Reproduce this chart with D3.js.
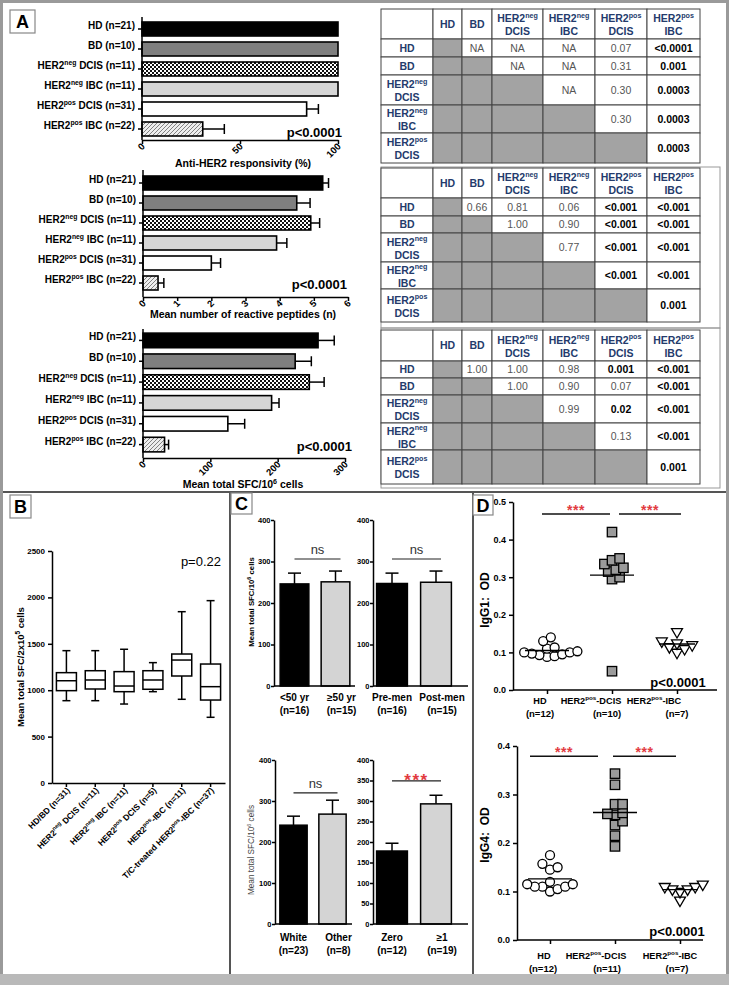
<!DOCTYPE html>
<html>
<head>
<meta charset="utf-8">
<title>Anti-HER2 responses</title>
<script src="https://cdn.jsdelivr.net/npm/d3@7"></script>
<style>
body { margin: 0; background: #fff; }
svg { display: block; font-family: "Liberation Sans", Arial, Helvetica, sans-serif; }
</style>
</head>
<body>
<svg id="fig"></svg>
<script>
// ---------- panel A : bar charts ----------
var aGroups = ["HD (n=21)", "BD (n=10)", "HER2^neg DCIS (n=11)", "HER2^neg IBC (n=11)", "HER2^pos DCIS (n=31)", "HER2^pos IBC (n=22)"];
var respMean = [100, 100, 100, 100, 84, 31];
var respSem  = [0, 0, 0, 0, 6, 11];
var pepMean  = [5.26, 4.50, 4.91, 3.91, 2.00, 0.44];
var pepSem   = [0.17, 0.39, 0.26, 0.30, 0.27, 0.17];
var sfcMean  = [260, 226, 247, 191, 126, 32];
var sfcSem   = [24, 24, 22, 11, 25, 6];

// ---------- panel A : p value tables ----------
var tCols = ["HD", "BD", "HER2^neg|DCIS", "HER2^neg|IBC", "HER2^pos|DCIS", "HER2^pos|IBC"];
var tRows = ["HD", "BD", "HER2^neg|DCIS", "HER2^neg|IBC", "HER2^pos|DCIS"];
var pResp = [["", "NA", "NA", "NA", "0.07", "<0.0001"],
             ["", "", "NA", "NA", "0.31", "0.001"],
             ["", "", "", "NA", "0.30", "0.0003"],
             ["", "", "", "", "0.30", "0.0003"],
             ["", "", "", "", "", "0.0003"]];
var pPep  = [["", "0.66", "0.81", "0.06", "<0.001", "<0.001"],
             ["", "", "1.00", "0.90", "<0.001", "<0.001"],
             ["", "", "", "0.77", "<0.001", "<0.001"],
             ["", "", "", "", "<0.001", "<0.001"],
             ["", "", "", "", "", "0.001"]];
var pSfc  = [["", "1.00", "1.00", "0.98", "0.001", "<0.001"],
             ["", "", "1.00", "0.90", "0.07", "<0.001"],
             ["", "", "", "0.99", "0.02", "<0.001"],
             ["", "", "", "", "0.13", "<0.001"],
             ["", "", "", "", "", "0.001"]];

// ---------- panel B : box plots ----------
var bGroups = ["HD/BD (n=31)", "HER2^neg DCIS (n=11)", "HER2^neg IBC (n=11)", "HER2^pos DCIS (n=5)", "HER2^pos-IBC (n=11)", "T/C-treated HER2^pos-IBC (n=37)"];
var bMin = [887, 887, 851, 984, 902, 708];
var bQ1  = [995, 1013, 984, 1010, 1153, 894];
var bMed = [1102, 1110, 1045, 1110, 1325, 1038];
var bQ3  = [1189, 1210, 1200, 1210, 1390, 1282];
var bMax = [1426, 1426, 1441, 1297, 1846, 1965];
var bTicks = [0, 500, 1000, 1500, 2000, 2500];

// ---------- panel C : subgroup bars ----------
var cAgeLabels  = [["<50 yr", "(n=16)"], ["\u226550 yr", "(n=15)"]];
var cAgeMean = [246, 251], cAgeSem = [26, 26];
var cMenLabels  = [["Pre-men", "(n=16)"], ["Post-men", "(n=15)"]];
var cMenMean = [247, 250], cMenSem = [25, 27];
var cRaceLabels = [["White", "(n=23)"], ["Other", "(n=8)"]];
var cRaceMean = [241, 268], cRaceSem = [22, 34];
var cPepLabels  = [["Zero", "(n=12)"], ["\u22651", "(n=19)"]];
var cPepMean = [178, 293], cPepSem = [19, 21];

// ---------- panel D : IgG1 / IgG4 scatter ----------
var dGroups = ["HD", "HER2^pos-DCIS", "HER2^pos-IBC"];
var dN1 = ["(n=12)", "(n=10)", "(n=7)"];
var igg1HD   = [0.088, 0.09, 0.093, 0.095, 0.097, 0.10, 0.10, 0.103, 0.11, 0.113, 0.13, 0.14];
var igg1DCIS = [0.42, 0.35, 0.345, 0.335, 0.325, 0.32, 0.315, 0.30, 0.295, 0.05];
var igg1IBC  = [0.155, 0.13, 0.125, 0.12, 0.115, 0.11, 0.10];
var dN4 = ["(n=12)", "(n=11)", "(n=7)"];
var igg4HD   = [0.175, 0.15, 0.145, 0.157, 0.115, 0.11, 0.11, 0.11, 0.115, 0.10, 0.105, 0.12];
var igg4DCIS = [0.343, 0.32, 0.28, 0.28, 0.262, 0.258, 0.245, 0.237, 0.26, 0.215, 0.193];
var igg4IBC  = [0.082, 0.11, 0.115, 0.105, 0.11, 0.10, 0.105];

var svg = d3.select("#fig").attr("width", 729).attr("height", 985);
var RED = "#e23a3f", NAVY = "#243b6c";
var fmtInt = d3.format("d");

// text with ^superscripts
function rich(sel, str, size) {
  var parts = str.split(/\^(\w+)/);
  parts.forEach(function(p, i) {
    if (i % 2 == 1) sel.append("tspan").attr("dy", -size * 0.4).attr("font-size", size * 0.68).text(p);
    else if (p) sel.append("tspan").attr("dy", i > 0 ? size * 0.4 : 0).text(p);
  });
}

function styleAxis(g, size) {
  g.attr("font-family", null).attr("font-size", size);
  g.selectAll("text").attr("font-weight", "bold").attr("fill", "#000");
  g.selectAll("line,path").attr("stroke", "#000").attr("stroke-width", 1.5);
}

function line(g, x1, y1, x2, y2, col, w) {
  return g.append("line").attr("x1", x1).attr("y1", y1).attr("x2", x2).attr("y2", y2)
    .attr("stroke", col || "#000").attr("stroke-width", w || 1.5);
}

// patterns
var defs = svg.append("defs");
var pc = defs.append("pattern").attr("id", "check").attr("width", 4).attr("height", 4).attr("patternUnits", "userSpaceOnUse");
pc.append("rect").attr("width", 4).attr("height", 4).attr("fill", "#fff");
pc.append("rect").attr("width", 2).attr("height", 2).attr("fill", "#111");
pc.append("rect").attr("x", 2).attr("y", 2).attr("width", 2).attr("height", 2).attr("fill", "#111");
var ph = defs.append("pattern").attr("id", "hatch").attr("width", 4).attr("height", 4).attr("patternUnits", "userSpaceOnUse");
ph.append("rect").attr("width", 4).attr("height", 4).attr("fill", "#eee");
ph.append("path").attr("d", "M-1,1 l2,-2 M0,4 l4,-4 M3,5 l2,-2").attr("stroke", "#666").attr("stroke-width", 0.8);
var aFill = ["#000", "#7f7f7f", "url(#check)", "#d6d6d6", "#fff", "url(#hatch)"];

// frame and dividers
svg.append("rect").attr("x", 1.5).attr("y", 1.5).attr("width", 726).attr("height", 982)
  .attr("fill", "#fff").attr("stroke", "#9a9a9a").attr("stroke-width", 3);
svg.append("rect").attr("x", 0).attr("y", 974).attr("width", 729).attr("height", 11).attr("fill", "#b9b9b9");
line(svg, 3, 492, 726, 492, "#555", 2);
line(svg, 230, 492, 230, 974, "#555", 2);
line(svg, 473, 492, 473, 974, "#555", 2);

function panelLabel(t, x, y, w, h) {
  svg.append("rect").attr("x", x).attr("y", y).attr("width", w).attr("height", h)
    .attr("fill", "#fff").attr("stroke", "#888").attr("stroke-width", 1.2);
  svg.append("text").attr("x", x + w / 2).attr("y", y + h / 2 + 6.5).attr("text-anchor", "middle")
    .attr("font-size", 18).attr("font-weight", "bold").text(t);
}
panelLabel("A", 10, 10, 25, 23);
panelLabel("B", 10, 495, 21, 23);
panelLabel("C", 231, 493, 21, 21);
panelLabel("D", 473, 495, 20, 20);

// ---------- A bar charts ----------
function barChartA(c) {
  var g = svg.append("g");
  var x = d3.scaleLinear().domain([0, c.max]).range([c.x0, c.x1]);
  var y = d3.scaleBand().domain(aGroups).range([c.y0, c.y1]).paddingInner(0.3).paddingOuter(0.15);
  var bw = y.bandwidth();
  aGroups.forEach(function(name, i) {
    if (c.sem[i] <= 0) return;
    var cy = y(name) + bw / 2, xe = x(c.mean[i] + c.sem[i]);
    line(g, x(c.mean[i]), cy, xe, cy);
    line(g, xe, cy - 5, xe, cy + 5);
  });
  g.selectAll("rect.bar").data(c.mean).enter().append("rect").attr("class", "bar")
    .attr("x", x(0)).attr("y", function(d, i) { return y(aGroups[i]); })
    .attr("width", function(d) { return x(d) - x(0); }).attr("height", bw)
    .attr("fill", function(d, i) { return aFill[i]; })
    .attr("stroke", "#000").attr("stroke-width", 1.6);

  var ya = g.append("g").attr("transform", "translate(" + x(0) + ",0)")
    .call(d3.axisLeft(y).tickSize(4).tickSizeOuter(0));
  styleAxis(ya, 10);
  ya.select(".domain").remove();
  ya.selectAll(".tick text").each(function(d) { var t = d3.select(this); t.text(null); rich(t, d, 10); });
  line(g, x(0), c.top, x(0), c.axisY);

  var xa = g.append("g").attr("transform", "translate(0," + c.axisY + ")")
    .call(d3.axisBottom(x).tickValues(c.ticks).tickFormat(fmtInt).tickSize(4).tickSizeOuter(0));
  styleAxis(xa, 9.5);
  xa.selectAll(".tick text").attr("x", null).attr("y", null).attr("dy", null)
    .attr("text-anchor", "end").attr("transform", "translate(3,7) rotate(-45)");

  g.append("text").attr("x", c.pX).attr("y", c.pY).attr("text-anchor", "end")
    .attr("font-size", 13).attr("font-weight", "bold").text("p<0.0001");
  var tt = g.append("text").attr("x", 243).attr("y", c.titleY).attr("text-anchor", "middle")
    .attr("font-size", 10.5).attr("font-weight", "bold");
  rich(tt, c.title, 10.5);
}
barChartA({ mean: respMean, sem: respSem, max: 100, ticks: [0, 50, 100], x0: 142, x1: 338, y0: 19, y1: 139,
  top: 17, axisY: 140, title: "Anti-HER2 responsivity (%)", titleY: 167, pX: 342, pY: 137 });
barChartA({ mean: pepMean, sem: pepSem, max: 6, ticks: [0, 1, 2, 3, 4, 5, 6], x0: 143, x1: 348, y0: 173, y1: 293,
  top: 170, axisY: 297, title: "Mean number of reactive peptides (n)", titleY: 318, pX: 347, pY: 289 });
barChartA({ mean: sfcMean, sem: sfcSem, max: 300, ticks: [0, 100, 200, 300], x0: 143, x1: 345, y0: 330, y1: 455,
  top: 329, axisY: 458, title: "Mean total SFC/10^6 cells", titleY: 488, pX: 352, pY: 451 });

// ---------- A tables ----------
var colX = [381, 433, 462, 492, 543, 595, 647, 700];
function cellText(g, s, cx, top, h, size, col, bold) {
  var lines = s.split("|");
  var base = lines.length == 2 ? top + h / 2 - 2 : top + h / 2 + size * 0.36;
  lines.forEach(function(l, k) {
    var t = g.append("text").attr("x", cx).attr("y", base + k * 13).attr("text-anchor", "middle")
      .attr("font-size", size).attr("fill", col).attr("font-weight", bold ? "bold" : "normal");
    rich(t, l, size);
  });
}
function drawTable(vals, rowY, frame) {
  var g = svg.append("g");
  if (frame) g.append("rect").attr("x", frame[0]).attr("y", frame[1]).attr("width", frame[2]).attr("height", frame[3])
    .attr("fill", "none").attr("stroke", "#999").attr("stroke-width", 1);
  for (var r = 0; r < rowY.length - 1; r++) {
    for (var c = 0; c < colX.length - 1; c++) {
      var x = colX[c], y = rowY[r], w = colX[c + 1] - x, h = rowY[r + 1] - y;
      var gray = r > 0 && c > 0 && c - 1 <= r - 1;
      g.append("rect").attr("x", x).attr("y", y).attr("width", w).attr("height", h)
        .attr("fill", gray ? "#a3a3a3" : "#fff").attr("stroke", "#444").attr("stroke-width", 1);
      if (r == 0 && c > 0) cellText(g, tCols[c - 1], x + w / 2, y, h, 10.5, NAVY, true);
      else if (c == 0 && r > 0) cellText(g, tRows[r - 1], x + w / 2, y, h, 10.5, NAVY, true);
      else if (r > 0 && !gray) {
        var s = vals[r - 1][c - 1];
        var sig = +s.replace("<", "") < 0.05;
        cellText(g, s, x + w / 2, y, h, 10.5, sig ? "#000" : "#555", sig);
      }
    }
  }
}
drawTable(pResp, [9, 39, 57, 75, 105, 133, 163]);
drawTable(pPep, [168, 198, 216, 233, 262, 289, 322], [381, 167, 339, 161]);
drawTable(pSfc, [330, 361, 378, 395, 423, 450, 484], [381, 328, 339, 160]);

// ---------- B box plots ----------
(function() {
  var g = svg.append("g");
  var x = d3.scaleBand().domain(bGroups).range([52, 225]);
  var y = d3.scaleLinear().domain([0, 2500]).range([783, 551]);
  var ya = g.append("g").attr("transform", "translate(52,0)")
    .call(d3.axisLeft(y).tickValues(bTicks).tickFormat(fmtInt).tickSize(4).tickSizeOuter(0));
  styleAxis(ya, 8);
  var xa = g.append("g").attr("transform", "translate(0,783)")
    .call(d3.axisBottom(x).tickSize(4).tickSizeOuter(0));
  styleAxis(xa, 8.5);
  xa.selectAll(".tick text").each(function(d) {
    var t = d3.select(this); t.text(null);
    t.attr("x", null).attr("y", null).attr("dy", null).attr("text-anchor", "end")
      .attr("transform", "translate(4,8) rotate(-45)");
    rich(t, d, 8.5);
  });
  bGroups.forEach(function(name, i) {
    var cx = x(name) + x.bandwidth() / 2;
    line(g, cx, y(bMin[i]), cx, y(bQ1[i]));
    line(g, cx, y(bQ3[i]), cx, y(bMax[i]));
    line(g, cx - 4, y(bMin[i]), cx + 4, y(bMin[i]));
    line(g, cx - 4, y(bMax[i]), cx + 4, y(bMax[i]));
    g.append("rect").attr("x", cx - 10).attr("y", y(bQ3[i])).attr("width", 20)
      .attr("height", y(bQ1[i]) - y(bQ3[i])).attr("fill", "#fff").attr("stroke", "#000").attr("stroke-width", 1.5);
    line(g, cx - 10, y(bMed[i]), cx + 10, y(bMed[i]));
  });
  g.append("text").attr("x", 221).attr("y", 566).attr("text-anchor", "end").attr("font-size", 13).text("p=0.22");
  var t = g.append("text").attr("transform", "translate(24,667) rotate(-90)").attr("text-anchor", "middle")
    .attr("font-size", 9.5).attr("font-weight", "bold");
  rich(t, "Mean total SFC/2x10^5 cells", 9.5);
})();

// ---------- C bar charts ----------
function barChartC(c) {
  var g = svg.append("g");
  var names = c.labels.map(function(l) { return l[0]; });
  var x = d3.scaleBand().domain(names).range(c.xr).paddingInner(0.3).paddingOuter(0.15);
  var y = d3.scaleLinear().domain([0, 400]).range(c.yr);
  var bw = x.bandwidth();
  names.forEach(function(n, i) {
    var cx = x(n) + bw / 2, ye = y(c.mean[i] + c.sem[i]);
    line(g, cx, y(c.mean[i]), cx, ye);
    line(g, cx - 6.5, ye, cx + 6.5, ye);
  });
  g.selectAll("rect.bar").data(c.mean).enter().append("rect")
    .attr("x", function(d, i) { return x(names[i]); }).attr("y", function(d) { return y(d); })
    .attr("width", bw).attr("height", function(d) { return y(0) - y(d); })
    .attr("fill", function(d, i) { return i == 0 ? "#000" : "#d4d4d4"; })
    .attr("stroke", "#000").attr("stroke-width", 1.5);
  var ya = g.append("g").attr("transform", "translate(" + c.axisX + ",0)")
    .call(d3.axisLeft(y).tickValues(c.ticks).tickFormat(fmtInt).tickSize(3).tickSizeOuter(0));
  styleAxis(ya, 7.5);
  ya.selectAll(".tick text").attr("x", -3.5);
  line(g, c.axisX, y(0), c.xEnd, y(0));
  var labDx = [0, 6];
  c.labels.forEach(function(l, i) {
    var cx = x(names[i]) + bw / 2 + labDx[i];
    g.append("text").attr("x", cx).attr("y", c.labY).attr("text-anchor", "middle")
      .attr("font-size", 10).attr("font-weight", "bold").text(l[0]);
    g.append("text").attr("x", cx).attr("y", c.labY + 13).attr("text-anchor", "middle")
      .attr("font-size", 10).attr("font-weight", "bold").text(l[1]);
  });
  var x1 = x(names[0]) + bw / 2, x2 = x(names[1]) + bw / 2 + 5, ys = y(c.sigV);
  line(g, x1, ys, x2, ys, "#222", 1.2);
  if (c.sig == "ns") {
    g.append("text").attr("x", (x1 + x2) / 2).attr("y", ys - 5).attr("text-anchor", "middle")
      .attr("font-size", 13).attr("fill", "#333").text("ns");
  } else {
    g.append("text").attr("x", (x1 + x2) / 2).attr("y", ys + 5).attr("text-anchor", "middle")
      .attr("font-size", 17).attr("font-weight", "bold").attr("letter-spacing", 1.5).attr("fill", RED).text(c.sig);
  }
  if (c.title) {
    var t = g.append("text").attr("transform", "translate(" + c.title.x + "," + c.title.y + ") rotate(-90)")
      .attr("text-anchor", "middle").attr("font-size", c.title.size)
      .attr("font-weight", c.title.bold ? "bold" : "normal").attr("fill", c.title.bold ? "#000" : "#444");
    rich(t, "Mean total SFC/10^6 cells", c.title.size);
  }
}
var t100 = [0, 100, 200, 300, 400];
barChartC({ labels: cAgeLabels, mean: cAgeMean, sem: cAgeSem, xr: [274, 356], yr: [686, 520], axisX: 274, xEnd: 355,
  ticks: t100, labY: 701, sigV: 306, sig: "ns", title: { x: 254, y: 602, size: 7.8, bold: true } });
barChartC({ labels: cMenLabels, mean: cMenMean, sem: cMenSem, xr: [370, 458], yr: [686, 520], axisX: 373, xEnd: 468,
  ticks: t100, labY: 701, sigV: 306, sig: "ns" });
barChartC({ labels: cRaceLabels, mean: cRaceMean, sem: cRaceSem, xr: [274, 352], yr: [924, 760], axisX: 275, xEnd: 352,
  ticks: t100, labY: 941, sigV: 320, sig: "ns", title: { x: 254, y: 850, size: 8.2, bold: false } });
barChartC({ labels: cPepLabels, mean: cPepMean, sem: cPepSem, xr: [370, 458], yr: [924, 760], axisX: 373, xEnd: 468,
  ticks: d3.range(0, 401, 50), labY: 941, sigV: 349, sig: "***" });

// ---------- D scatter ----------
function swarm(vals, y, cx, dmin) {
  var pts = vals.map(function(v) { return { v: v, y: y(v) }; }).sort(function(a, b) { return b.y - a.y; });
  var placed = [];
  pts.forEach(function(p) {
    for (var k = 0; k < 60; k++) {
      var off = (k % 2 ? 1 : -1) * Math.ceil(k / 2) * dmin * 0.5;
      var ok = placed.every(function(q) { return Math.hypot(q.x - (cx + off), q.y - p.y) >= dmin; });
      if (ok) { p.x = cx + off; break; }
    }
    placed.push(p);
  });
  return placed;
}
function dotChart(c) {
  var g = svg.append("g");
  var x = d3.scalePoint().domain(dGroups).range(c.xr);
  var y = d3.scaleLinear().domain([0, c.max]).range(c.yr);
  var ya = g.append("g").attr("transform", "translate(" + c.axisX + ",0)")
    .call(d3.axisLeft(y).tickValues(c.ticks).tickFormat(d3.format(".1f")).tickSize(4).tickSizeOuter(0));
  styleAxis(ya, 9);
  var xa = g.append("g").attr("transform", "translate(0," + y(0) + ")")
    .call(d3.axisBottom(x).tickSize(4).tickSizeOuter(0).tickFormat(""));
  styleAxis(xa, 9);
  xa.select(".domain").remove();
  line(g, c.axisX, y(0), c.xEnd, y(0));

  var half = [22, 22, 18];
  c.data.forEach(function(vals, gi) {
    var cx = x(dGroups[gi]);
    var pts = swarm(vals, y, cx, 7.6);
    var sel = g.selectAll(null).data(pts).enter();
    if (gi == 0) {
      sel.append("circle").attr("cx", function(d) { return d.x; }).attr("cy", function(d) { return d.y; }).attr("r", 4.5)
        .attr("fill", "#fff").attr("stroke", "#000").attr("stroke-width", 1.3);
    } else if (gi == 1) {
      sel.append("rect").attr("x", function(d) { return d.x - 4.7; }).attr("y", function(d) { return d.y - 4.7; })
        .attr("width", 9.4).attr("height", 9.4).attr("fill", "#9b9b9b").attr("stroke", "#000").attr("stroke-width", 1.3);
    } else {
      sel.append("path").attr("d", d3.symbol().type(d3.symbolTriangle).size(52))
        .attr("transform", function(d) { return "translate(" + d.x + "," + d.y + ") rotate(180)"; })
        .attr("fill", "#fff").attr("stroke", "#000").attr("stroke-width", 1.3);
    }
    var m = y(d3.mean(vals));
    line(g, cx - half[gi], m, cx + half[gi], m, "#000", 1.4);
    // labels
    var t = g.append("text").attr("x", cx + c.lab1dx[gi]).attr("y", c.labY).attr("text-anchor", "middle")
      .attr("font-size", 9.2).attr("font-weight", "bold");
    rich(t, dGroups[gi], 9.2);
    g.append("text").attr("x", cx + c.lab2dx[gi]).attr("y", c.labY + 13).attr("text-anchor", "middle")
      .attr("font-size", 9.5).attr("font-weight", "bold").text(c.n[gi]);
  });
  var g0 = x(dGroups[0]), g1 = x(dGroups[1]), g2 = x(dGroups[2]), ys = y(c.sigV);
  [[g0 + c.sig[0][0], g1 + c.sig[0][1]], [g1 + c.sig[1][0], g2 + c.sig[1][1]]].forEach(function(s) {
    line(g, s[0], ys, s[1], ys, "#111", 1.5);
    g.append("text").attr("x", (s[0] + s[1]) / 2).attr("y", ys + 1).attr("text-anchor", "middle")
      .attr("font-size", 14).attr("font-weight", "bold").attr("letter-spacing", 0.5).attr("fill", RED).text("***");
  });
  g.append("text").attr("x", c.pX).attr("y", c.pY).attr("text-anchor", "middle")
    .attr("font-size", 13).attr("font-weight", "bold").text("p<0.0001");
  g.append("text").attr("transform", "translate(489," + c.titleY + ") rotate(-90)").attr("text-anchor", "middle")
    .attr("font-size", 12).attr("font-weight", "bold").style("white-space", "pre").text(c.title);
}
dotChart({ data: [igg1HD, igg1DCIS, igg1IBC], n: dN1, xr: [547, 677], yr: [690, 502], max: 0.5,
  ticks: [0, 0.1, 0.2, 0.3, 0.4, 0.5], axisX: 513, xEnd: 717, labY: 704, lab1dx: [-7, -21, -23], lab2dx: [-7, -5, 0],
  sigV: 0.468, sig: [[-5, -2], [7, 4]], pX: 678, pY: 687, title: "IgG1:  OD", titleY: 600 });
dotChart({ data: [igg4HD, igg4DCIS, igg4IBC], n: dN4, xr: [550, 680], yr: [940, 746], max: 0.4,
  ticks: [0, 0.1, 0.2, 0.3, 0.4], axisX: 517, xEnd: 703, labY: 959, lab1dx: [-6, -19, -10], lab2dx: [-7, -8, -3],
  sigV: 0.379, sig: [[-20, -17], [-2, -4]], pX: 677, pY: 936, title: "IgG4:  OD", titleY: 835 });
</script>
</body>
</html>
